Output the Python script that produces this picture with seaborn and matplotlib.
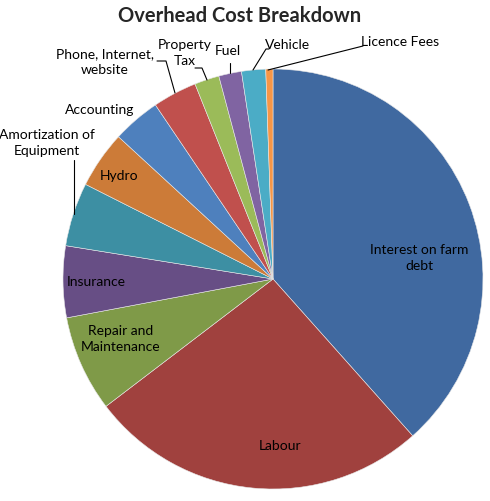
import matplotlib
matplotlib.use("Agg")
import matplotlib.pyplot as plt
import seaborn as sns

# Overhead cost shares (percent)
categories = [
    "Interest on farm\ndebt", "Labour", "Repair and\nMaintenance", "Insurance",
    "Amortization of\nEquipment", "Hydro", "Accounting", "Phone, Internet,\nwebsite",
    "Property\nTax", "Fuel", "Vehicle", "Licence Fees",
]
shares = [38.4, 26.2, 7.4, 5.5, 4.9, 4.4, 3.7, 3.4, 1.9, 1.75, 1.85, 0.55]
colors = [
    "#4069A0", "#A0413E", "#7F9A48", "#674E85", "#3D8FA3", "#CC7B38",
    "#4E80BD", "#C0504D", "#9BBB59", "#8064A2", "#4BACC6", "#F79646",
]

# label placement (pixel positions in the 490x501 canvas)
label_px = [
    (419, 258), (280, 446), (121, 339), (96, 282), (47, 143), (119, 176),
    (100, 110), (105, 62), (185, 53), (228, 51), (288, 45), (400, 42),
]
leaders_px = {
    4: [(74, 214), (74, 160)],
    7: [(175, 93), (166, 61), (157, 61)],
    8: [(207, 80), (202, 68), (195, 68)],
    9: [(230, 73), (230, 63)],
    10: [(253, 70), (266, 49), (269, 49)],
    11: [(268, 70), (363, 46)],
}

W, H = 490, 501
CX, CY, R = 273, 279, 210


def to_data(p):
    return (p[0] - CX) / R, (CY - p[1]) / R


sns.set_theme(style="white")
plt.rcParams["font.family"] = ["Lato", "DejaVu Sans"]

fig = plt.figure(figsize=(W / 100, H / 100), dpi=100)
ax = fig.add_axes([(CX - R) / W, (H - CY - R) / H, 2 * R / W, 2 * R / H])

ax.pie(shares, colors=colors, startangle=90, counterclock=False, radius=1,
       wedgeprops=dict(edgecolor="#e8e8e8", linewidth=0.4))
ax.set_xlim(-1, 1)
ax.set_ylim(-1, 1)
ax.set_aspect("equal")
ax.axis("off")

for i, name in enumerate(categories):
    x, y = to_data(label_px[i])
    ax.text(x, y, name, ha="center", va="center", fontsize=10,
            color="black", linespacing=1.4, clip_on=False)

for i, pts in leaders_px.items():
    xs, ys = zip(*[to_data(p) for p in pts])
    ax.plot(xs, ys, color="black", linewidth=0.8, clip_on=False)

fig.text(240 / W, 1 - 16 / H, "Overhead Cost Breakdown", ha="center",
         va="center", fontsize=14.5, fontweight="bold")

fig.savefig("out.png", dpi=100)
